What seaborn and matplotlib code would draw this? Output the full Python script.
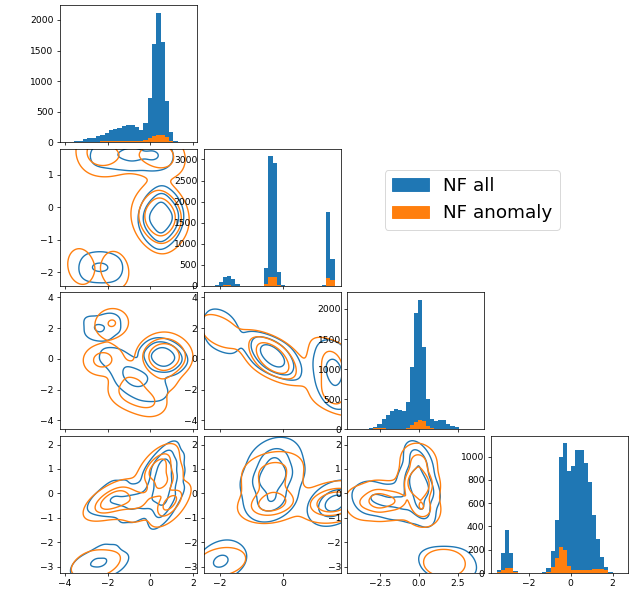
import numpy as np
import pandas as pd
import matplotlib
matplotlib.use("Agg")
import matplotlib.pyplot as plt
from matplotlib.patches import Patch
import seaborn as sns

BLUE = "#1f77b4"
ORANGE = "#ff7f0e"

# ---------------- diagonal histograms (bin start, bin width, counts) -------------
V0_START, V0_WIDTH = -3.76, 0.202
V0_ALL = [10, 20, 30, 50, 70, 75, 110, 130, 160, 200, 215, 240, 265, 285, 280,
          250, 200, 320, 730, 1610, 2120, 1640, 680, 170, 20]
V0_ANOM = [2, 3, 5, 8, 10, 12, 15, 18, 20, 22, 25, 28, 25, 22, 20, 18, 25, 40,
           80, 100, 120, 125, 90, 30, 5]

V1_START, V1_WIDTH = -2.16, 0.1303
V1_ALL = [15, 95, 210, 235, 160, 40, 0, 0, 0, 0, 0, 0, 430, 3080, 2920, 330, 20,
          0, 0, 0, 0, 0, 0, 0, 0, 0, 30, 1750, 640]
V1_ANOM = [3, 8, 12, 12, 8, 3, 0, 0, 0, 0, 0, 0, 50, 205, 210, 30, 5,
           0, 0, 0, 0, 0, 0, 0, 0, 0, 10, 180, 150]

V2_START, V2_WIDTH = -3.42, 0.26
V2_ALL = [15, 20, 45, 90, 180, 245, 300, 335, 325, 310, 450, 1040, 1940, 2150,
          1370, 510, 180, 140, 165, 150, 95, 60, 38, 16, 8, 4]
V2_ANOM = [10, 15, 25, 30, 25, 15, 10, 10, 10, 15, 30, 80, 130, 165, 140, 60,
           25, 15, 15, 12, 10, 8, 5, 3, 2, 1]

V3_START, V3_WIDTH = -3.52, 0.197
V3_ALL = [30, 170, 370, 170, 20, 0, 0, 0, 0, 0, 0, 12, 40, 190, 460, 1000, 1120,
          880, 920, 1055, 1055, 950, 785, 500, 295, 137, 50, 10]
V3_ANOM = [5, 25, 40, 40, 10, 0, 0, 0, 0, 0, 0, 2, 10, 50, 130, 220, 200, 60,
           25, 25, 25, 30, 30, 35, 35, 35, 30, 3]

# ---------------- lower panels: representative points (x, y, weight) -------------
# row1/col0 : v1 vs v0
P10_ALL = [(0.5, -0.32, 1700), (1.02, -0.32, 850), (-0.02, -0.32, 850), (0.5, 0.12, 850),
           (0.5, -0.76, 850), (0.87, -0.01, 425), (0.13, -0.01, 425), (0.87, -0.63, 425),
           (0.13, -0.63, 425),
           (-2.6, 1.6, 100), (-2.25, 1.6, 150), (-1.9, 1.62, 200), (-1.55, 1.62, 260),
           (-1.2, 1.63, 330), (-0.85, 1.63, 420), (-0.5, 1.62, 330), (-0.15, 1.6, 250),
           (0.15, 1.6, 330), (0.5, 1.58, 250), (0.85, 1.55, 100),
           (-3.0, -1.85, 200), (-2.65, -1.85, 300), (-2.3, -1.85, 330),
           (-1.95, -1.87, 280), (-1.6, -1.9, 160)]
P10_ANOM = [(0.46, -0.3, 125), (1.06, -0.3, 62), (-0.14, -0.3, 62), (0.46, 0.15, 62),
            (0.46, -0.75, 62), (0.88, 0.02, 31), (0.04, 0.02, 31), (0.88, -0.62, 31),
            (0.04, -0.62, 31),
            (-2.9, 1.65, 25), (-2.5, 1.67, 50), (-2.1, 1.65, 45), (-1.7, 1.62, 25),
            (-1.3, 1.6, 15), (-0.9, 1.6, 15), (-0.5, 1.6, 20), (-0.1, 1.6, 30),
            (0.3, 1.6, 50), (0.7, 1.58, 45), (1.1, 1.55, 20),
            (-3.25, -1.83, 35), (-1.65, -1.94, 40)]
# row2/col0 : v2 vs v0
P20_ALL = [(0.6, 0.13, 1700), (1.05, 0.13, 850), (0.15, 0.13, 850), (0.6, 0.68, 850),
           (0.6, -0.42, 850), (0.92, 0.52, 425), (0.28, 0.52, 425), (0.92, -0.26, 425),
           (0.28, -0.26, 425),
           (-2.45, 2.05, 380), (-2.0, 2.4, 200), (-2.7, 1.6, 150), (-1.7, 2.7, 100),
           (-2.2, 1.6, 140), (-2.8, 2.5, 90), (-1.8, 2.0, 140),
           (-2.0, 0.4, 100), (-1.5, 0.4, 100),
           (-2.1, -0.1, 100), (-1.6, -0.1, 150), (-1.1, -0.1, 150),
           (-1.6, -0.6, 120), (-1.1, -0.6, 200), (-0.6, -0.6, 180), (0.0, -0.6, 120),
           (-1.3, -1.1, 180), (-0.8, -1.1, 380), (-0.3, -1.1, 220), (0.2, -1.1, 150),
           (-1.2, -1.6, 140), (-0.7, -1.6, 280), (-0.2, -1.6, 170), (0.3, -1.6, 130),
           (-0.9, -2.1, 90), (-0.4, -2.1, 110), (0.1, -2.1, 110), (0.6, -2.1, 80),
           (-0.5, -2.6, 50), (0.0, -2.6, 60), (0.5, -2.6, 50)]
P20_ANOM = [(0.65, 0.15, 110), (1.15, 0.15, 55), (0.15, 0.15, 55), (0.65, 0.72, 55),
            (0.65, -0.42, 55), (1.0, 0.55, 27), (0.3, 0.55, 27), (1.0, -0.25, 27),
            (0.3, -0.25, 27),
            (-1.75, 2.4, 45), (-2.0, 2.0, 15),
            (-2.35, -0.1, 60), (-1.9, 0.1, 25), (-0.9, -2.3, 50), (-0.4, -2.6, 50),
            (0.1, -2.9, 35), (-1.3, -2.0, 30), (-1.2, -1.0, 30), (0.6, -1.4, 30),
            (-0.5, -1.4, 30)]
# row2/col1 : v2 vs v1
P21_ALL = [(-0.22, -0.8, 250), (-0.25, -0.55, 500), (-0.28, -0.3, 800),
           (-0.31, -0.05, 1100), (-0.34, 0.2, 1250), (-0.37, 0.45, 1100),
           (-0.40, 0.7, 800), (-0.43, 0.95, 500), (-0.46, 1.2, 250),
           (-1.95, 0.6, 60), (-1.95, 0.9, 105), (-1.95, 1.2, 150), (-1.95, 1.5, 180),
           (-1.95, 1.8, 190), (-1.95, 2.1, 165), (-1.95, 2.4, 130), (-1.95, 2.7, 90),
           (-1.95, 3.0, 50), (-1.95, 3.3, 20),
           (1.6, 1.3, 20), (1.6, 1.0, 50), (1.6, 0.7, 90), (1.6, 0.4, 140),
           (1.6, 0.1, 180), (1.6, -0.2, 220), (1.6, -0.5, 260), (1.6, -0.8, 270),
           (1.6, -1.1, 260), (1.6, -1.4, 230), (1.6, -1.7, 200), (1.6, -2.0, 170),
           (1.6, -2.3, 130), (1.6, -2.6, 90), (1.6, -2.9, 60), (1.6, -3.2, 35),
           (1.6, -3.5, 15)]
P21_ANOM = [(-0.22, -0.9, 50), (-0.27, -0.5, 90), (-0.32, -0.1, 120),
            (-0.37, 0.3, 110), (-0.42, 0.7, 80), (-0.47, 1.1, 40),
            (-2.0, 1.0, 8), (-2.0, 1.4, 14), (-2.0, 1.8, 16), (-2.0, 2.2, 14),
            (-2.0, 2.6, 8),
            (1.55, 0.9, 15), (1.55, 0.5, 25), (1.55, 0.1, 30), (1.55, -0.3, 35),
            (1.55, -0.7, 35), (1.55, -1.1, 35), (1.55, -1.5, 35), (1.55, -1.9, 35),
            (1.55, -2.3, 35), (1.55, -2.7, 30), (1.55, -3.1, 20)]
# row3/col0 : v3 vs v0
P30_ALL = [(0.6, -0.9, 250), (0.6, -0.55, 450), (0.6, -0.2, 700), (0.6, 0.15, 850),
           (0.6, 0.5, 900), (0.6, 0.85, 850), (0.6, 1.2, 650), (0.6, 1.5, 350),
           (0.15, -0.2, 220), (0.15, 0.5, 220), (0.15, 1.1, 180),
           (1.05, -0.2, 220), (1.05, 0.5, 220), (1.05, 1.1, 180),
           (-2.7, -0.3, 60), (-2.4, -0.3, 110), (-2.1, -0.3, 160), (-1.8, -0.3, 200),
           (-1.5, -0.3, 230), (-1.2, -0.3, 250), (-0.9, -0.3, 280), (-0.6, -0.3, 280),
           (-0.3, -0.3, 220), (0.0, -0.3, 150),
           (-2.0, 0.15, 100), (-1.5, 0.15, 100), (-1.0, -0.8, 100), (-0.5, -0.8, 100),
           (-3.6, -2.9, 40), (-3.3, -2.9, 90), (-3.0, -2.9, 150), (-2.7, -2.9, 190),
           (-2.4, -2.9, 210), (-2.1, -2.9, 190), (-1.8, -2.9, 150), (-1.5, -2.9, 100),
           (-1.2, -2.9, 50), (-2.5, -2.55, 120), (-2.0, -2.55, 100)]
P30_ANOM = [(0.3, 1.0, 100), (0.45, 1.4, 40), (0.95, -0.3, 100), (0.8, -0.75, 40),
            (0.6, 0.35, 80), (0.5, 0.7, 50),
            (-1.73, -0.25, 100), (-2.1, -0.35, 40), (-1.35, -0.25, 50), (-1.0, -0.3, 40),
            (-0.6, -0.35, 40), (-0.3, -0.6, 30), (-2.5, -0.45, 20),
            (-3.3, -2.85, 10), (-2.9, -2.85, 16), (-2.5, -2.9, 18), (-2.1, -2.9, 14),
            (-1.7, -2.9, 7)]
# row3/col1 : v3 vs v1
P31_ALL = [(-0.34, 0.65, 2000), (-0.34, 1.45, 1300), (-0.34, -0.3, 1500),
           (-0.69, 0.65, 500), (0.01, 0.65, 500), (-0.69, -0.1, 250), (0.01, 1.3, 250),
           (-1.97, -2.85, 700), (-1.97, -2.5, 250), (-1.6, -2.8, 150), (-2.3, -2.8, 150),
           (1.62, -0.4, 2400)]
P31_ANOM = [(-0.33, 1.0, 120), (-0.35, -0.4, 260), (-0.35, 0.4, 100),
            (-1.95, -2.8, 60), (1.6, -0.35, 340)]
# row3/col2 : v3 vs v2
P32_ALL = [(0.0, 0.4, 3000), (0.0, 1.3, 1300), (0.1, -0.5, 1500), (0.6, 0.2, 500),
           (-0.6, 0.2, 500),
           (-3.9, -0.3, 100), (-3.5, -0.25, 180), (-3.1, -0.2, 250), (-2.7, -0.2, 280),
           (-2.3, -0.3, 260), (-1.9, -0.4, 250), (-1.5, -0.35, 280), (-1.1, -0.35, 300),
           (-0.7, -0.6, 250),
           (0.2, -2.85, 60), (0.6, -2.85, 110), (1.0, -2.85, 170), (1.4, -2.85, 210),
           (1.8, -2.85, 220), (2.2, -2.85, 220), (2.6, -2.85, 200), (3.0, -2.85, 150),
           (3.4, -2.85, 80)]
P32_ANOM = [(0.0, 0.4, 250), (0.0, 1.3, 100), (0.2, -0.6, 120),
            (-2.6, -0.3, 150), (-1.5, -0.3, 100), (-3.7, -0.4, 60),
            (0.6, -2.85, 6), (1.1, -2.85, 12), (1.6, -2.85, 16), (2.1, -2.85, 14),
            (2.6, -2.85, 8)]

LEGEND_LABELS = ["NF all", "NF anomaly"]

# ---------------- axes ranges & ticks -------------
XLIMS = [(-4.23, 2.19), (-2.51, 1.81), (-4.57, 4.21), (-3.8, 2.73)]
XTICKS = [[-4, -2, 0, 2], [-2, 0], [-2.5, 0.0, 2.5], [-2, 0, 2]]
ROW_YLIMS = [None, (-2.43, 1.81), (-4.59, 4.35), (-3.26, 2.37)]
ROW_YTICKS = [None, [-2, -1, 0, 1], [-4, -2, 0, 2, 4], [-3, -2, -1, 0, 1, 2]]
HIST_YLIMS = [2244, 3260, 2280, 1182]
HIST_YTICKS = [[0, 500, 1000, 1500, 2000], [0, 500, 1000, 1500, 2000, 2500, 3000],
               [0, 500, 1000, 1500, 2000], [0, 200, 400, 600, 800, 1000]]

HISTS = [(V0_START, V0_WIDTH, V0_ALL, V0_ANOM), (V1_START, V1_WIDTH, V1_ALL, V1_ANOM),
         (V2_START, V2_WIDTH, V2_ALL, V2_ANOM), (V3_START, V3_WIDTH, V3_ALL, V3_ANOM)]
PANELS = {(1, 0): (P10_ALL, P10_ANOM), (2, 0): (P20_ALL, P20_ANOM),
          (2, 1): (P21_ALL, P21_ANOM), (3, 0): (P30_ALL, P30_ANOM),
          (3, 1): (P31_ALL, P31_ANOM), (3, 2): (P32_ALL, P32_ANOM)}
# kernel bandwidth factors (all, anomaly) per panel
BWS = {(1, 0): (0.22, 0.28), (2, 0): (0.30, 0.38), (2, 1): (0.30, 0.36),
       (3, 0): (0.28, 0.34), (3, 1): (0.30, 0.35), (3, 2): (0.30, 0.35)}
N_LEVELS = 4

DPI = 66
fig, axes = plt.subplots(4, 4, figsize=(639 / DPI, 591 / DPI), dpi=DPI)
fig.subplots_adjust(left=60 / 639, right=628 / 639, bottom=1 - 573 / 591,
                    top=1 - 5 / 591, wspace=0.049, hspace=0.044)


def draw_hist(ax, start, width, counts, color):
    counts = [float(v) for v in counts]
    n = len(counts)
    centers = [start + width * (i + 0.5) for i in range(n)]
    df = pd.DataFrame({"x": centers, "w": counts})
    sns.histplot(data=df, x="x", weights="w", binwidth=width,
                 binrange=(start, start + width * n), color=color, alpha=1.0,
                 linewidth=0, ax=ax)


def draw_kde(ax, pts, color, bw):
    df = pd.DataFrame(pts, columns=["x", "y", "w"])
    sns.kdeplot(data=df, x="x", y="y", weights="w", levels=N_LEVELS,
                bw_method=bw, color=color, ax=ax, linewidths=1.5)


for r in range(4):
    for c in range(4):
        ax = axes[r, c]
        if c > r:
            ax.remove()
            continue
        if r == c:
            start, width, a_all, a_anom = HISTS[r]
            draw_hist(ax, start, width, a_all, BLUE)
            draw_hist(ax, start, width, a_anom, ORANGE)
            ax.set_ylim(0, HIST_YLIMS[r])
            ax.set_yticks(HIST_YTICKS[r])
        else:
            p_all, p_anom = PANELS[(r, c)]
            bw_all, bw_anom = BWS[(r, c)]
            draw_kde(ax, p_all, BLUE, bw_all)
            draw_kde(ax, p_anom, ORANGE, bw_anom)
            ax.set_ylim(*ROW_YLIMS[r])
            ax.set_yticks(ROW_YTICKS[r])
        ax.set_xlim(*XLIMS[c])
        ax.set_xticks(XTICKS[c])
        ax.set_xlabel("")
        ax.set_ylabel("")
        if r < 3:
            ax.tick_params(labelbottom=False)

handles = [Patch(color=BLUE), Patch(color=ORANGE)]
fig.legend(handles, LEGEND_LABELS, loc="center", bbox_to_anchor=(0.739, 0.662),
           fontsize=20)

fig.savefig("out.png", dpi=DPI)
